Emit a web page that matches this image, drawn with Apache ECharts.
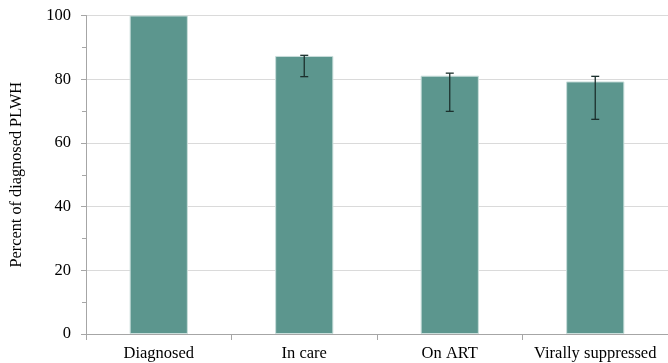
<!DOCTYPE html>
<html>
<head>
<meta charset="utf-8">
<script src="https://cdn.jsdelivr.net/npm/echarts@6/dist/echarts.min.js"></script>
<style>html,body{margin:0;padding:0;background:#fff}#c{width:668px;height:363px}</style>
</head>
<body>
<div id="c"></div>
<script>
const categories = ['Diagnosed', 'In care', 'On ART', 'Virally suppressed'];
const values = [100, 87.3, 81.1, 79.3];
const errLow = [null, 80.8, 69.9, 67.4];
const errHigh = [null, 87.5, 81.9, 80.9];
const yTicks = [0, 20, 40, 60, 80, 100];

const chart = echarts.init(document.getElementById('c'), null, {renderer: 'canvas'});
const font = '"Liberation Serif", "DejaVu Serif", serif';
const errData = categories.map((c, i) => [i, errLow[i], errHigh[i]]).filter(d => d[1] != null);

chart.setOption({
  animation: false,
  grid: {left: 86, right: -5, top: 15.5, bottom: 29},
  xAxis: {
    type: 'category',
    data: categories,
    axisLine: {lineStyle: {color: '#a6a6a6', width: 1}},
    axisTick: {show: true, interval: 0, length: 6, lineStyle: {color: '#a6a6a6'}},
    axisLabel: {interval: 0, color: '#000', fontFamily: font, fontSize: 16.5, margin: 11}
  },
  yAxis: {
    type: 'value',
    min: yTicks[0], max: yTicks[yTicks.length - 1], interval: 20,
    name: 'Percent of diagnosed PLWH',
    nameLocation: 'middle',
    nameGap: 61,
    nameTextStyle: {color: '#000', fontFamily: font, fontSize: 16.3},
    axisLine: {show: true, lineStyle: {color: '#a6a6a6'}},
    axisTick: {show: true, length: 5, lineStyle: {color: '#a6a6a6'}},
    minorTick: {show: true, splitNumber: 2, length: 4, lineStyle: {color: '#a6a6a6'}},
    splitLine: {show: true, lineStyle: {color: '#dadada', width: 1}},
    axisLabel: {color: '#000', fontFamily: font, fontSize: 16.5, margin: 15}
  },
  series: [
    {
      type: 'bar',
      data: values,
      barWidth: '40%',
      itemStyle: {color: '#5c968e', borderColor: '#c9dedb', borderWidth: 1}
    },
    {
      type: 'custom',
      data: errData,
      z: 10,
      renderItem: function (params, api) {
        const x = api.value(0);
        const lo = api.coord([x, api.value(1)]);
        const hi = api.coord([x, api.value(2)]);
        const hw = 4;
        const style = {stroke: '#1c302d', lineWidth: 1.3};
        return {
          type: 'group',
          children: [
            {type: 'line', shape: {x1: hi[0], y1: hi[1], x2: lo[0], y2: lo[1]}, style: style},
            {type: 'line', shape: {x1: hi[0] - hw, y1: hi[1], x2: hi[0] + hw, y2: hi[1]}, style: style},
            {type: 'line', shape: {x1: lo[0] - hw, y1: lo[1], x2: lo[0] + hw, y2: lo[1]}, style: style}
          ]
        };
      }
    }
  ]
});
</script>
</body>
</html>
